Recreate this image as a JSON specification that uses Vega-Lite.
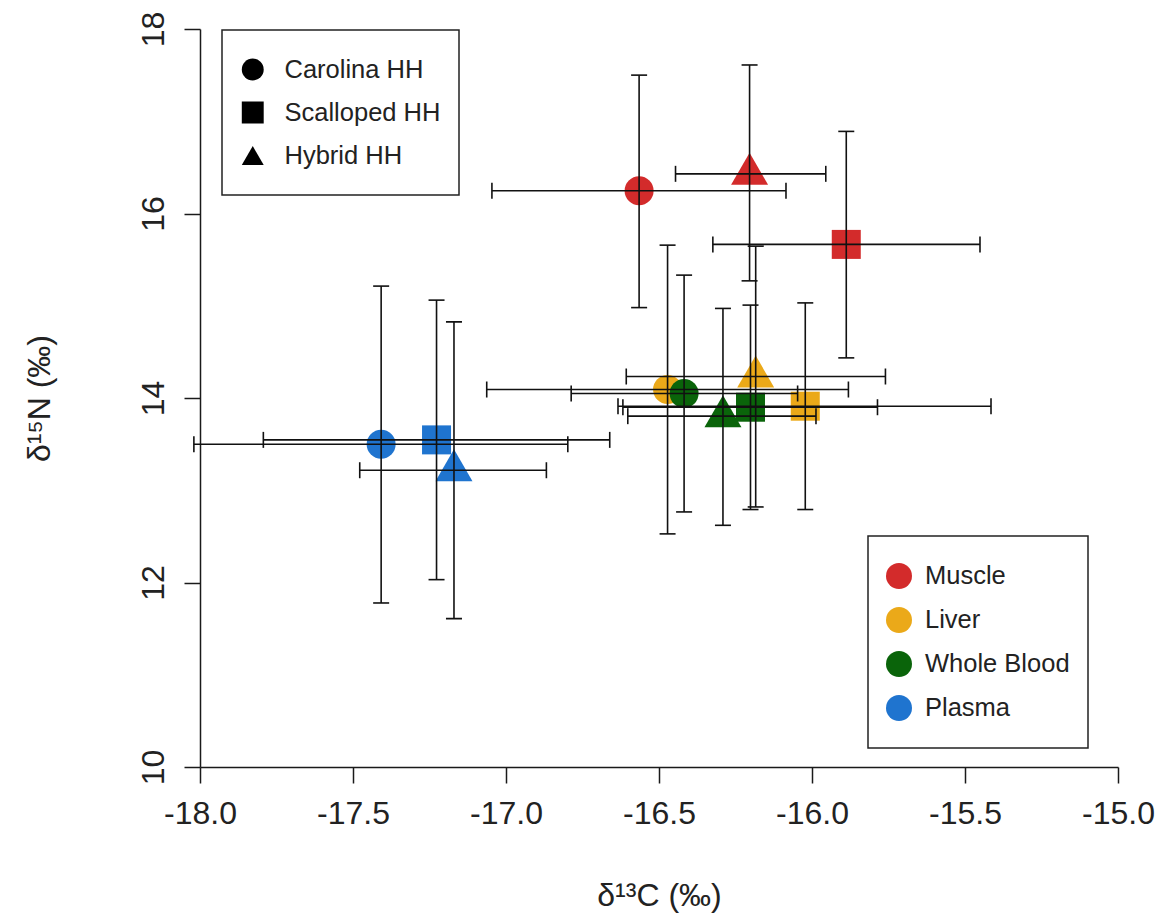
{
  "$schema": "https://vega.github.io/schema/vega-lite/v6.json",
  "width": 918,
  "height": 738,
  "autosize": {"type": "none"},
  "padding": {"left": 200, "top": 29, "right": 46, "bottom": 151},
  "background": "white",
  "config": {
    "font": "Liberation Sans",
    "view": {"stroke": null},
    "axis": {
      "domainColor": "#1a1a1a", "domainWidth": 1.5,
      "tickColor": "#1a1a1a", "tickWidth": 1.5, "tickSize": 16,
      "labelFont": "Liberation Sans", "labelFontSize": 32, "labelColor": "#222",
      "titleFont": "Liberation Sans", "titleFontSize": 32, "titleFontWeight": "normal", "titleColor": "#222",
      "grid": false, "labelFlush": false, "labelOverlap": false, "labelBound": false
    },
    "legend": {
      "labelFont": "Liberation Sans", "labelFontSize": 25.5, "labelColor": "#222",
      "strokeColor": "#222", "strokeWidth": 1.5, "fillColor": "white",
      "rowPadding": 0, "padding": 18, "labelLimit": 400
    }
  },
  "data": {
    "values": [
      {"tissue": "Muscle", "species": "Carolina HH", "d13C": -16.565, "d15N": 16.246, "xlo": -17.046, "xhi": -16.085, "ylo": 14.98, "yhi": 17.50},
      {"tissue": "Muscle", "species": "Hybrid HH", "d13C": -16.204, "d15N": 16.43, "xlo": -16.446, "xhi": -15.955, "ylo": 15.27, "yhi": 17.61},
      {"tissue": "Muscle", "species": "Scalloped HH", "d13C": -15.888, "d15N": 15.665, "xlo": -16.324, "xhi": -15.451, "ylo": 14.435, "yhi": 16.89},
      {"tissue": "Liver", "species": "Carolina HH", "d13C": -16.472, "d15N": 14.092, "xlo": -17.063, "xhi": -15.881, "ylo": 12.527, "yhi": 15.657},
      {"tissue": "Liver", "species": "Hybrid HH", "d13C": -16.184, "d15N": 14.233, "xlo": -16.607, "xhi": -15.76, "ylo": 12.819, "yhi": 15.646},
      {"tissue": "Liver", "species": "Scalloped HH", "d13C": -16.022, "d15N": 13.911, "xlo": -16.634, "xhi": -15.415, "ylo": 12.791, "yhi": 15.031},
      {"tissue": "Whole Blood", "species": "Carolina HH", "d13C": -16.418, "d15N": 14.049, "xlo": -16.787, "xhi": -16.047, "ylo": 12.765, "yhi": 15.332},
      {"tissue": "Whole Blood", "species": "Hybrid HH", "d13C": -16.291, "d15N": 13.803, "xlo": -16.602, "xhi": -15.987, "ylo": 12.62, "yhi": 14.971},
      {"tissue": "Whole Blood", "species": "Scalloped HH", "d13C": -16.201, "d15N": 13.90, "xlo": -16.618, "xhi": -15.786, "ylo": 12.791, "yhi": 15.007},
      {"tissue": "Plasma", "species": "Carolina HH", "d13C": -17.408, "d15N": 13.499, "xlo": -18.02, "xhi": -16.798, "ylo": 11.778, "yhi": 15.213},
      {"tissue": "Plasma", "species": "Scalloped HH", "d13C": -17.227, "d15N": 13.546, "xlo": -17.793, "xhi": -16.661, "ylo": 12.031, "yhi": 15.061},
      {"tissue": "Plasma", "species": "Hybrid HH", "d13C": -17.17, "d15N": 13.217, "xlo": -17.478, "xhi": -16.868, "ylo": 11.608, "yhi": 14.825}
    ]
  },
  "layer": [
    {
      "transform": [{"filter": "datum.species !== 'Hybrid HH'"}],
      "mark": {"type": "point", "filled": true, "opacity": 1, "strokeWidth": 0, "size": 841},
      "encoding": {
        "x": {"field": "d13C", "type": "quantitative",
          "scale": {"domain": [-18, -15], "nice": false, "zero": false},
          "axis": {"values": [-18, -17.5, -17, -16.5, -16, -15.5, -15], "format": ".1f", "labelExpr": "replace(datum.label, '−', '-')", "labelPadding": 15,
            "title": "δ¹³C (‰)", "titleX": 459, "titleY": 138, "titleAlign": "center", "titleBaseline": "alphabetic", "titleAnchor": null}},
        "y": {"field": "d15N", "type": "quantitative",
          "scale": {"domain": [10, 18], "nice": false, "zero": false},
          "axis": {"values": [10, 12, 14, 16, 18], "format": "d", "labelAngle": 270, "labelAlign": "center", "labelBaseline": "bottom", "labelPadding": 14,
            "title": "δ¹⁵N (‰)", "titleAngle": 270, "titleX": -151, "titleY": 369, "titleAlign": "center", "titleBaseline": "alphabetic"}},
        "color": {"field": "tissue", "type": "nominal",
          "scale": {"domain": ["Muscle", "Liver", "Whole Blood", "Plasma"], "range": ["#D32B2B", "#EBA919", "#0A640A", "#1F74CF"]},
          "legend": {"orient": "none", "legendX": 668, "legendY": 507, "title": null, "symbolType": "circle", "symbolSize": 676,
            "symbolStrokeWidth": 0, "symbolOpacity": 1, "labelOffset": 13, "clipHeight": 44}},
        "shape": {"field": "species", "type": "nominal",
          "scale": {"domain": ["Carolina HH", "Scalloped HH", "Hybrid HH"], "range": ["circle", "square", "triangle-up"]},
          "legend": {"orient": "none", "legendX": 22, "legendY": 1, "title": null, "symbolSize": 480,
            "symbolFillColor": "black", "symbolStrokeColor": "black", "symbolStrokeWidth": 0, "symbolOpacity": 1,
            "labelOffset": 19, "clipHeight": 43}}
      }
    },
    {
      "transform": [{"filter": "datum.species === 'Hybrid HH'"}],
      "mark": {"type": "point", "filled": true, "opacity": 1, "strokeWidth": 0, "size": 1369, "yOffset": -5},
      "encoding": {
        "x": {"field": "d13C", "type": "quantitative"},
        "y": {"field": "d15N", "type": "quantitative"},
        "color": {"field": "tissue", "type": "nominal"},
        "shape": {"field": "species", "type": "nominal"}
      }
    },
    {
      "mark": {"type": "rule", "color": "#111", "strokeWidth": 1.6},
      "encoding": {
        "x": {"field": "xlo", "type": "quantitative"},
        "x2": {"field": "xhi"},
        "y": {"field": "d15N", "type": "quantitative"}
      }
    },
    {
      "mark": {"type": "rule", "color": "#111", "strokeWidth": 1.6},
      "encoding": {
        "x": {"field": "d13C", "type": "quantitative"},
        "y": {"field": "ylo", "type": "quantitative"},
        "y2": {"field": "yhi"}
      }
    },
    {
      "mark": {"type": "tick", "orient": "vertical", "size": 16, "thickness": 1.6, "color": "#111", "opacity": 1},
      "encoding": {
        "x": {"field": "xlo", "type": "quantitative"},
        "y": {"field": "d15N", "type": "quantitative"}
      }
    },
    {
      "mark": {"type": "tick", "orient": "vertical", "size": 16, "thickness": 1.6, "color": "#111", "opacity": 1},
      "encoding": {
        "x": {"field": "xhi", "type": "quantitative"},
        "y": {"field": "d15N", "type": "quantitative"}
      }
    },
    {
      "mark": {"type": "tick", "orient": "horizontal", "size": 16, "thickness": 1.6, "color": "#111", "opacity": 1},
      "encoding": {
        "x": {"field": "d13C", "type": "quantitative"},
        "y": {"field": "ylo", "type": "quantitative"}
      }
    },
    {
      "mark": {"type": "tick", "orient": "horizontal", "size": 16, "thickness": 1.6, "color": "#111", "opacity": 1},
      "encoding": {
        "x": {"field": "d13C", "type": "quantitative"},
        "y": {"field": "yhi", "type": "quantitative"}
      }
    }
  ]
}
